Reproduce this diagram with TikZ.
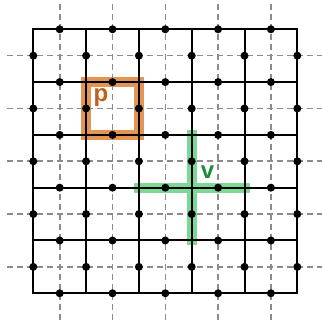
\documentclass[tikz,border=0pt]{standalone}
\usepackage{fontspec}
\setmainfont{Liberation Sans}
\usetikzlibrary{positioning}
\definecolor{plaq}{HTML}{E08A3E}
\definecolor{plaqtext}{HTML}{C0601C}
\definecolor{vert}{HTML}{6FD38A}
\definecolor{verttext}{HTML}{1E8C3C}
\definecolor{dual}{HTML}{8C8C8C}
\begin{document}
\begin{tikzpicture}[x=52.8pt, y=52.8pt,
    edge/.style={line width=2pt},
    dualedge/.style={dual, line width=1.6pt, dash pattern=on 6pt off 4pt},
    qubit/.style={black},
    stablabel/.style={font=\fontsize{24}{24}\selectfont\bfseries, anchor=base, inner sep=0pt}]
    \useasboundingbox (-0.631,-0.506) rectangle (5.468,5.555);
    % stabilisers
    \draw[plaq, line width=10pt, opacity=0.9] (1,3) rectangle (2,4);
    \draw[vert, line width=10pt, opacity=0.9, line cap=rect] (3,1) -- (3,3) (2,2) -- (4,2);
    % dual lattice
    \foreach \i in {0.5,1.5,...,4.5} {
        \draw[dualedge] (\i,-0.5) -- (\i,5.5);
        \draw[dualedge] (-0.5,\i) -- (5.5,\i);
    }
    % primal lattice
    \foreach \i in {0,...,5} {
        \draw[edge] (\i,0) -- (\i,5);
        \draw[edge] (0,\i) -- (5,\i);
    }
    \draw[edge, line cap=rect] (0,0) rectangle (5,5);
    % qubits on edges
    \foreach \i in {0,...,5}
        \foreach \j in {0.5,1.5,...,4.5} {
            \fill[qubit] (\i,\j) circle (4pt);
            \fill[qubit] (\j,\i) circle (4pt);
        }
    \node[stablabel, plaqtext] (p) at (1.28,3.64) {p};
    \node[stablabel, verttext] (v) at (3.3,2.18) {v};
\end{tikzpicture}
\end{document}
